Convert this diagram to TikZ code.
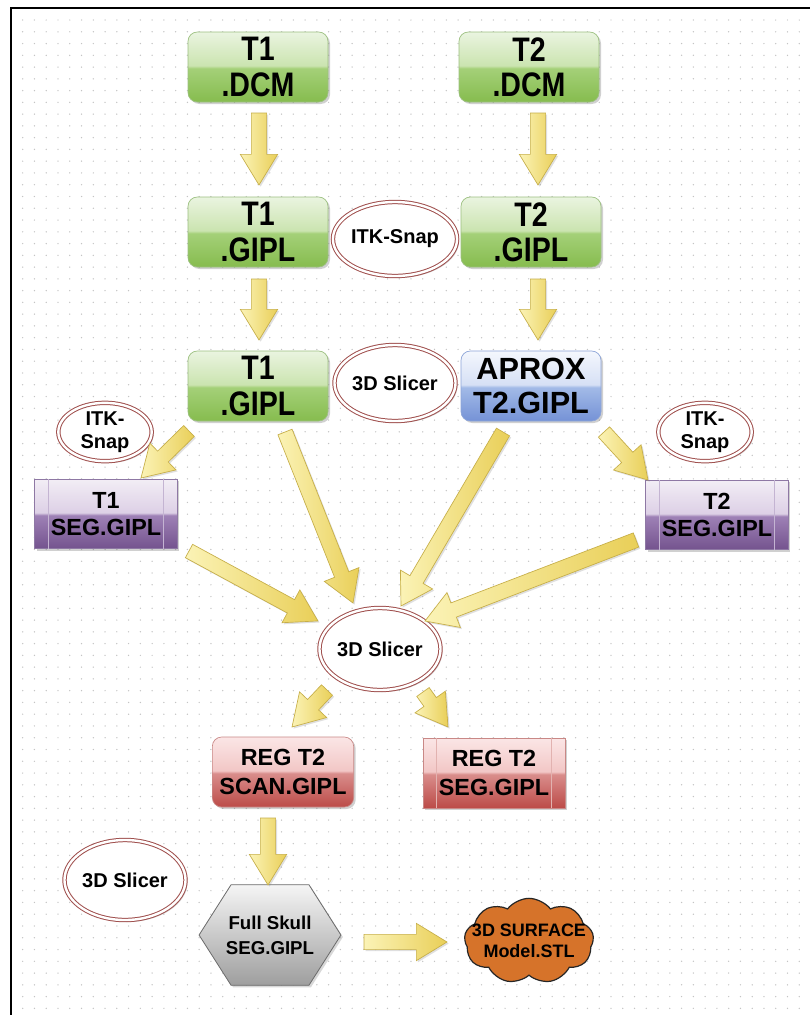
\documentclass[tikz,border=0pt]{standalone}
\usepackage{fontspec}
\setmainfont{Liberation Sans}
\newfontfamily\narrowsans[FakeStretch=0.84]{Liberation Sans}
\usetikzlibrary{calc,shapes.geometric,shapes.symbols,shadows}

\definecolor{dotc}{HTML}{C4C4C4}
\definecolor{gTop}{HTML}{EAF4E0}
\definecolor{gHi}{HTML}{CBE4B0}
\definecolor{gMid}{HTML}{A4D078}
\definecolor{gBot}{HTML}{86BC4E}
\definecolor{gEdge}{HTML}{9CC080}
\definecolor{bTop}{HTML}{F4F7FD}
\definecolor{bHi}{HTML}{D6E0F5}
\definecolor{bMid}{HTML}{A2BAE7}
\definecolor{bBot}{HTML}{7592D6}
\definecolor{bEdge}{HTML}{8CA4D8}
\definecolor{pTop}{HTML}{F2EDF5}
\definecolor{pHi}{HTML}{DDD0E6}
\definecolor{pMid}{HTML}{9E81B6}
\definecolor{pBot}{HTML}{74538E}
\definecolor{pEdge}{HTML}{8E78A4}
\definecolor{pLine}{HTML}{C4B4D2}
\definecolor{rTop}{HTML}{FBE6E6}
\definecolor{rHi}{HTML}{F2C7C6}
\definecolor{rMid}{HTML}{D98D8B}
\definecolor{rBot}{HTML}{BC4B48}
\definecolor{rEdge}{HTML}{C98886}
\definecolor{rLine}{HTML}{E2B2B0}
\definecolor{ellc}{HTML}{A0504E}
\definecolor{arrL}{HTML}{FBF3B6}
\definecolor{arrR}{HTML}{E9CF58}
\definecolor{arrEdge}{HTML}{C6AE48}
\definecolor{cloudc}{HTML}{D6732A}

\pgfdeclareverticalshading{glossgreen}{100bp}{color(0bp)=(gBot); color(25bp)=(gBot); color(49bp)=(gMid); color(51bp)=(gHi); color(75bp)=(gTop); color(100bp)=(gTop)}
\pgfdeclareverticalshading{glossblue}{100bp}{color(0bp)=(bBot); color(25bp)=(bBot); color(49bp)=(bMid); color(51bp)=(bHi); color(75bp)=(bTop); color(100bp)=(bTop)}
\pgfdeclareverticalshading{glosspurple}{100bp}{color(0bp)=(pBot); color(25bp)=(pBot); color(49bp)=(pMid); color(51bp)=(pHi); color(75bp)=(pTop); color(100bp)=(pTop)}
\pgfdeclareverticalshading{glossred}{100bp}{color(0bp)=(rBot); color(25bp)=(rBot); color(49bp)=(rMid); color(51bp)=(rHi); color(75bp)=(rTop); color(100bp)=(rTop)}

\pgfdeclarelayer{bg}
\pgfdeclarelayer{mid}
\pgfsetlayers{bg,mid,main}

\tikzset{
  softshadow/.style={drop shadow={shadow xshift=1.5pt, shadow yshift=-1.5pt, opacity=0.3, fill=black!60}},
  greenbox/.style={rounded corners=7pt, minimum width=105pt, minimum height=52.5pt, inner sep=0pt,
    shading=glossgreen, draw=gEdge, line width=0.5pt, align=center, softshadow,
    font=\narrowsans\bfseries\fontsize{25.5}{26.5}\selectfont},
  bluebox/.style={greenbox, shading=glossblue, draw=bEdge,
    font=\bfseries\fontsize{23}{25.5}\selectfont},
  procbox/.style={rectangle, minimum width=107pt, minimum height=52pt, inner sep=0pt,
    line width=0.5pt, align=center, softshadow, font=\bfseries\fontsize{17.5}{20.5}\selectfont},
  purplebox/.style={procbox, shading=glosspurple, draw=pEdge},
  redproc/.style={procbox, shading=glossred, draw=rEdge, font=\bfseries\fontsize{17.5}{21.5}\selectfont},
  redround/.style={greenbox, shading=glossred, draw=rEdge, font=\bfseries\fontsize{17.5}{21.5}\selectfont},
  tool/.style={ellipse, draw=ellc, double=white, double distance=1.8pt, line width=0.75pt,
    fill=white, inner sep=0pt, align=center, softshadow,
    font=\bfseries\fontsize{15}{17.5}\selectfont},
  procline/.style={line width=0.6pt},
  blockarrow/.style={draw=arrEdge, line width=0.5pt, left color=arrL, right color=arrR,
    drop shadow={shadow xshift=1.2pt, shadow yshift=-1.2pt, opacity=0.25, fill=black!50},
    to path={let \p1=(\tikztostart), \p2=(\tikztotarget),
      \n1={atan2(\y2-\y1,\x2-\x1)}, \n2={veclen(\x2-\x1,\y2-\y1)} in
      ([shift={(\p1)},rotate=\n1]0pt,5.7pt)
      -- ([shift={(\p1)},rotate=\n1]{\n2-23pt},5.7pt)
      -- ([shift={(\p1)},rotate=\n1]{\n2-23pt},14pt)
      -- ([shift={(\p1)},rotate=\n1]{\n2*1pt},0pt)
      -- ([shift={(\p1)},rotate=\n1]{\n2-23pt},-14pt)
      -- ([shift={(\p1)},rotate=\n1]{\n2-23pt},-5.7pt)
      -- ([shift={(\p1)},rotate=\n1]0pt,-5.7pt) -- cycle}},
}

\begin{document}
\begin{tikzpicture}[x=0.75pt,y=-0.75pt]
\useasboundingbox (0,0) rectangle (810,1015);
\begin{pgfonlayer}{bg}
  \fill[white] (0,0) rectangle (810,1015);
  \foreach \i in {0,...,66}{\foreach \j in {0,...,84}{
    \fill[dotc] ({22.7+11.766*\i},{20+11.766*\j}) circle (0.55pt);}}
  \draw[line width=2pt] (11,1020) -- (11,8) -- (815,8);
\end{pgfonlayer}

% boxes
\node[greenbox] (t1dcm) at (258,67) {T1\\.DCM};
\node[greenbox] (t2dcm) at (529,67) {T2\\.DCM};
\node[greenbox] (t1gipl) at (258,232) {T1\\.GIPL};
\node[greenbox] (t2gipl) at (531,232) {T2\\.GIPL};
\node[greenbox] (t1giplb) at (258,386) {T1\\.GIPL};
\node[bluebox] (aprox) at (531,386) {APROX\\T2.GIPL};

\node[tool, minimum width=84pt, minimum height=55.5pt] (itka) at (395,239) {ITK-Snap};
\node[tool, minimum width=84pt, minimum height=57pt] (slicera) at (395,383) {3D Slicer};
\node[tool, minimum width=70pt, minimum height=40.5pt] (itkl) at (105,432) {ITK-\\Snap};
\node[tool, minimum width=70pt, minimum height=40.5pt] (itkr) at (705,432) {ITK-\\Snap};

\node[purplebox] (t1seg) at (106,514) {T1\\SEG.GIPL};
\node[purplebox] (t2seg) at (717,515) {T2\\SEG.GIPL};
\foreach \b in {t1seg,t2seg}{
  \draw[procline, pLine] ([xshift=10.5pt]\b.north west) -- ([xshift=10.5pt]\b.south west);
  \draw[procline, pLine] ([xshift=-10.5pt]\b.north east) -- ([xshift=-10.5pt]\b.south east);
}

\node[tool, minimum width=88.5pt, minimum height=61.5pt] (slicerc) at (380,649) {3D Slicer};

\node[redround, minimum width=106pt, minimum height=52.5pt] (regscan) at (283,772) {REG T2\\SCAN.GIPL};
\node[redproc, minimum width=106.5pt, minimum height=52.5pt] (regseg) at (494,773) {REG T2\\SEG.GIPL};
\draw[procline, rLine] ([xshift=10.5pt]regseg.north west) -- ([xshift=10.5pt]regseg.south west);
\draw[procline, rLine] ([xshift=-10.5pt]regseg.north east) -- ([xshift=-10.5pt]regseg.south east);

\node[tool, minimum width=85.5pt, minimum height=60pt] (slicerl) at (125,880) {3D Slicer};

\node[minimum width=106pt, minimum height=75pt, inner sep=0pt, align=center,
      font=\bfseries\fontsize{14}{18.5}\selectfont] (hex) at (270,935) {Full Skull\\SEG.GIPL};
\begin{pgfonlayer}{mid}
  \draw[top color=black!4, bottom color=black!38, draw=black!58, line width=0.6pt,
        drop shadow={shadow xshift=1.5pt, shadow yshift=-1.5pt, opacity=0.3}]
    (hex.west) -- ([xshift=24pt]hex.north west) -- ([xshift=-24pt]hex.north east)
    -- (hex.east) -- ([xshift=-24pt]hex.south east) -- ([xshift=24pt]hex.south west) -- cycle;
\end{pgfonlayer}

\node[cloud, cloud puffs=9, cloud puff arc=105, aspect=1.5, fill=cloudc, draw=black!85,
      line width=0.9pt, minimum width=97pt, minimum height=64pt, inner sep=0pt] (cloud) at (529,941) {};
\node[align=center, inner sep=0pt, font=\bfseries\fontsize{13.5}{15.5}\selectfont]
      (cloudtxt) at (cloud.center) {3D SURFACE\\Model.STL};

% arrow end points
\coordinate (a1s) at (259,113); \coordinate (a1e) at (259,185);
\coordinate (a2s) at (538,113); \coordinate (a2e) at (538,185);
\coordinate (a3s) at (259,279); \coordinate (a3e) at (259,340);
\coordinate (a4s) at (538,279); \coordinate (a4e) at (538,340);
\coordinate (a5s) at (189,431); \coordinate (a5e) at (141,478);
\coordinate (a6s) at (285,432); \coordinate (a6e) at (353,603);
\coordinate (a7s) at (503,432); \coordinate (a7e) at (401,606);
\coordinate (a8s) at (604,432); \coordinate (a8e) at (648,480);
\coordinate (a9s) at (189,551); \coordinate (a9e) at (318,621);
\coordinate (a10s) at (636,540); \coordinate (a10e) at (425,621);
\coordinate (a11s) at (327,690); \coordinate (a11e) at (292,727);
\coordinate (a12s) at (423,692); \coordinate (a12e) at (448,727);
\coordinate (a13s) at (268,818); \coordinate (a13e) at (268,885);
\coordinate (a14s) at (364,942); \coordinate (a14e) at (447,942);

\foreach \k in {1,...,14}{
  \draw[blockarrow] (a\k s) to (a\k e);
}
\end{tikzpicture}
\end{document}
